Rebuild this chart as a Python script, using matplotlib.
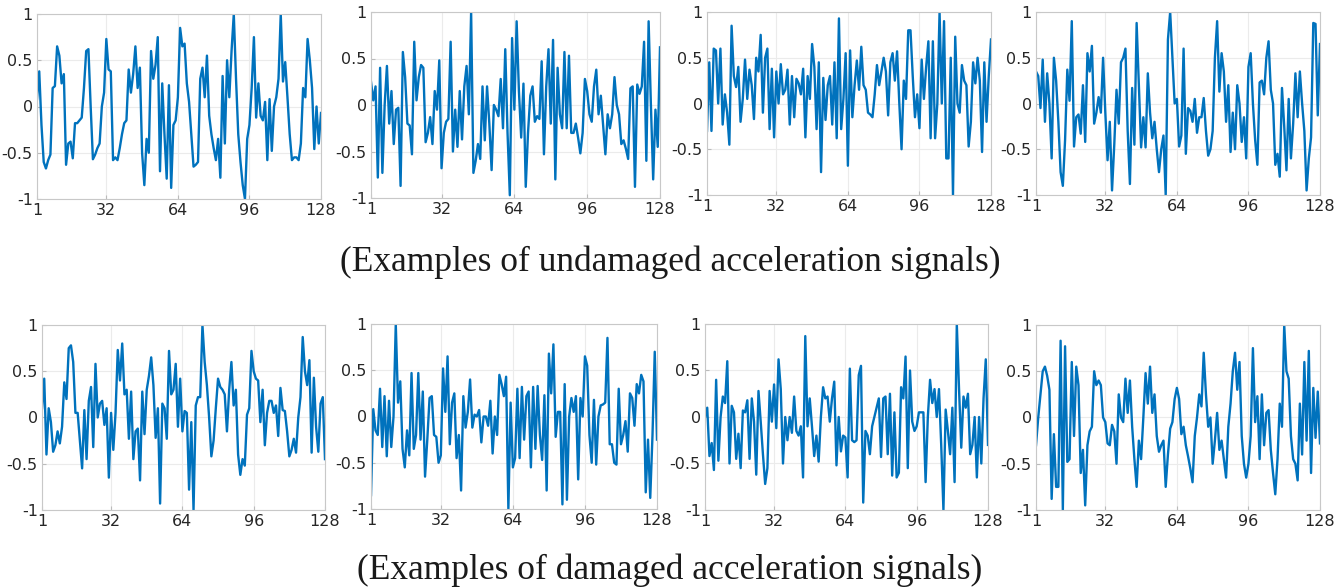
import matplotlib
matplotlib.use("Agg")
import matplotlib.pyplot as plt
import numpy as np

x_ticks = [1, 32, 64, 96, 128]
y_ticks = [-1, -0.5, 0, 0.5, 1]
y_tick_labels = ["-1", "-0.5", "0", "0.5", "1"]
caption_top = "(Examples of undamaged acceleration signals)"
caption_bottom = "(Examples of damaged acceleration signals)"

undamaged_1 = [0.08, 0.38, -0.2, -0.6, -0.67, -0.58, -0.52, 0.2, 0.22, 0.65, 0.55, 0.25, 0.35, -0.63, -0.4, -0.38,
               -0.56, -0.18, -0.18, -0.15, -0.12, 0.2, 0.6, 0.62, 0.0, -0.57, -0.52, -0.45, -0.4, 0.0, 0.15, 0.73,
               0.4, 0.38, -0.58, -0.55, -0.58, -0.45, -0.3, -0.18, -0.15, 0.4, 0.15, 0.35, 0.65, 0.2, 0.42, -0.5,
               -0.85, -0.35, -0.5, 0.6, 0.3, 0.45, 0.75, -0.7, 0.25, -0.3, -0.78, 0.23, -0.88, -0.2, -0.15, 0.1,
               0.85, 0.65, 0.68, 0.25, 0.05, -0.3, -0.65, -0.63, -0.6, 0.3, 0.42, 0.1, 0.55, -0.1, -0.3, -0.45,
               -0.58, -0.35, -0.77, 0.33, -0.4, 0.5, 0.1, 0.6, 1.0, 0.3, -0.3, -0.6, -0.85, -1.0, -0.35, -0.2,
               0.2, 0.75, -0.12, 0.25, -0.1, -0.15, 0.05, -0.58, 0.08, -0.48, 0.0, 0.1, 0.3, 1.0, 0.27, 0.48,
               0.1, -0.3, -0.58, -0.55, -0.55, -0.58, -0.4, 0.2, 0.1, 0.73, 0.5, 0.2, -0.46, 0.0, -0.4, -0.07]
undamaged_2 = [0.25, 0.05, 0.2, -0.78, 0.4, -0.73, 0.0, 0.42, -0.2, 0.15, -0.42, -0.05, -0.03, -0.87, 0.57, 0.3,
               -0.2, -0.22, -0.53, 0.68, 0.05, 0.3, 0.43, 0.4, -0.4, -0.3, -0.13, -0.42, 0.15, -0.05, 0.48, -0.68,
               -0.3, -0.18, -0.15, 0.68, -0.5, -0.05, -0.45, 0.15, -0.37, 0.2, 0.42, -0.1, 1.0, -0.73, -0.6, -0.42,
               -0.58, 0.2, -0.38, 0.2, -0.2, -0.7, 0.0, -0.05, -0.12, 0.28, -0.25, 0.6, -0.3, -0.97, 0.72, -0.05,
               0.9, 0.15, -0.35, 0.23, -0.88, -0.3, 0.1, 0.2, -0.18, -0.12, -0.15, 0.47, -0.53, 0.2, 0.6, -0.2,
               0.7, -0.8, 0.4, -0.1, -0.25, 0.57, -0.25, 0.53, -0.3, -0.3, -0.2, -0.35, -0.52, -0.3, 0.28, 0.15,
               -0.1, -0.18, 0.2, 0.38, -0.1, 0.1, -0.22, -0.53, -0.1, -0.25, -0.1, 0.3, 0.0, -0.1, -0.42, -0.38,
               -0.47, -0.58, 0.18, 0.2, -0.88, 0.22, 0.12, 0.2, 0.68, -0.6, 0.9, 0.0, -0.8, -0.05, -0.45, 0.62]
undamaged_3 = [-0.3, 0.45, -0.3, 0.6, 0.58, 0.0, 0.6, -0.23, 0.1, -0.1, -0.45, 0.85, 0.3, 0.18, 0.4, -0.2,
               0.05, 0.48, 0.05, 0.37, 0.2, -0.17, 0.5, 0.35, 0.75, -0.1, 0.5, 0.6, -0.28, 0.38, -0.37, 0.35,
               0.0, 0.43, 0.1, 0.15, 0.37, -0.23, 0.3, -0.15, 0.27, 0.22, 0.1, 0.38, -0.37, 0.3, 0.05, 0.65,
               0.4, -0.28, 0.45, -0.75, 0.28, -0.18, 0.2, 0.3, -0.23, 0.45, -0.38, 0.93, -0.28, 0.05, 0.55, -0.68,
               0.58, -0.15, 0.2, 0.47, 0.15, 0.62, 0.2, 0.15, -0.1, -0.12, -0.15, 0.1, 0.42, 0.2, 0.35, 0.5,
               0.35, -0.13, 0.45, 0.55, 0.25, 0.57, 0.0, -0.5, 0.25, 0.05, 0.8, 0.8, 0.3, -0.15, 0.1, -0.27,
               0.48, 0.05, 0.4, 0.68, -0.38, 0.68, -0.38, 0.0, 1.0, 0.0, 0.9, -0.6, -0.6, 0.5, -1.0, 0.73,
               0.0, -0.1, 0.42, 0.25, 0.2, -0.47, -0.2, 0.45, 0.22, 0.5, 0.25, -0.53, 0.45, -0.2, 0.3, 0.7]
undamaged_4 = [0.35, 0.3, -0.05, 0.48, -0.2, 0.33, 0.0, -0.6, 0.5, 0.25, -0.2, -0.75, -0.9, -0.4, 0.37, 0.03,
               0.9, -0.47, -0.15, -0.12, -0.33, 0.2, -0.42, 0.55, 0.35, 0.63, -0.22, -0.1, 0.07, -0.1, 0.5, -0.1,
               -0.62, -0.2, -0.95, -0.45, 0.15, -0.22, 0.45, 0.5, 0.6, -0.3, -0.88, 0.17, -0.45, 0.88, 0.2, -0.48,
               -0.15, -0.48, 0.33, -0.1, -0.38, -0.2, -0.5, -0.75, -0.5, -0.35, -1.0, 0.7, 1.0, 0.5, 0.0, 0.05,
               -0.47, -0.35, 0.6, -0.55, -0.05, -0.08, -0.2, 0.05, -0.32, -0.15, -0.15, 0.06, -0.3, -0.57, -0.5, -0.3,
               0.5, 0.9, 0.13, 0.55, 0.35, -0.2, 0.2, -0.53, -0.1, -0.5, 0.2, 0.0, -0.42, -0.15, -0.6, 0.4,
               0.55, 0.0, -0.4, -0.67, 0.23, 0.25, 0.1, 0.5, 0.68, 0.15, 0.0, -0.67, -0.55, -0.8, 0.17, -0.25,
               -0.73, 0.05, -0.6, -0.22, 0.33, -0.15, 0.35, 0.0, -0.3, -0.95, -0.6, -0.37, 0.88, 0.87, -0.13, 0.65]
damaged_1 = [0.1, 0.42, -0.4, 0.1, -0.05, -0.37, -0.3, -0.15, -0.28, -0.1, 0.38, 0.2, 0.75, 0.78, 0.6, 0.05,
             0.05, -0.25, -0.55, 0.08, -0.45, 0.18, 0.33, -0.32, 0.58, 0.0, 0.15, 0.18, -0.08, 0.1, -0.65, 0.05,
             -0.35, 0.05, 0.73, 0.4, 0.8, 0.25, 0.3, -0.23, 0.28, -0.45, -0.15, -0.12, -0.68, 0.28, -0.18, 0.3,
             0.45, 0.65, 0.35, -0.22, 0.1, -0.93, 0.15, 0.1, -0.23, 0.72, 0.25, 0.3, 0.58, -0.1, 0.42, -0.15,
             0.07, 0.05, -0.78, -0.05, -1.0, 0.13, 0.22, 0.22, 1.0, 0.6, 0.35, 0.0, -0.42, -0.25, 0.1, 0.42,
             0.33, 0.3, 0.25, -0.15, 0.3, 0.6, 0.13, 0.3, -0.4, -0.62, -0.45, -0.52, 0.03, 0.1, 0.72, 0.5,
             0.42, 0.4, -0.05, 0.3, -0.3, 0.05, 0.18, 0.18, 0.05, 0.13, -0.2, 0.32, 0.08, 0.07, -0.15, -0.42,
             -0.35, -0.23, -0.38, 0.0, 0.22, 0.87, 0.5, 0.35, 0.62, -0.38, 0.43, -0.1, -0.37, 0.15, 0.22, -0.45]
damaged_2 = [-0.85, 0.08, -0.15, -0.2, 0.3, -0.33, 0.22, -0.43, 0.17, -0.33, 0.0, 1.0, 0.15, 0.38, -0.35, -0.55,
             -0.15, -0.42, 0.47, -0.35, -0.2, 0.47, -0.25, 0.27, -0.65, -0.25, 0.2, 0.22, -0.2, -0.22, -0.5, -0.42,
             0.52, 0.05, 0.65, -0.3, 0.15, 0.25, -0.45, -0.2, -0.8, 0.22, -0.12, 0.05, 0.4, -0.12, 0.02, 0.0,
             0.07, -0.28, 0.0, 0.0, -0.1, 0.17, -0.4, 0.0, -0.2, 0.45, 0.35, 0.22, 0.43, -1.0, 0.15, -0.55,
             -0.45, 0.3, -0.45, 0.32, -0.25, 0.22, 0.27, -0.55, 0.32, -0.35, 0.33, -0.2, -0.47, 0.23, -0.8, 0.68,
             0.25, 0.78, -0.22, 0.05, 0.05, -0.95, 0.35, -0.9, 0.0, 0.2, 0.05, 0.22, -0.68, 0.2, 0.0, 0.65,
             0.55, -0.2, -0.5, 0.18, -0.52, 0.0, 0.12, 0.13, 0.15, 0.85, -0.3, -0.3, -0.5, -0.52, 0.3, -0.3,
             -0.2, -0.05, -0.38, 0.25, 0.2, -0.1, 0.35, 0.25, 0.45, 0.38, -0.82, -0.25, -0.88, -0.2, 0.7, -0.25]
damaged_3 = [0.0, 0.1, -0.42, -0.28, -0.57, 0.4, -0.47, 0.0, 0.22, 0.15, 0.6, -0.5, 0.12, 0.05, -0.45, -0.18,
             -0.55, 0.07, 0.05, 0.18, -0.45, 0.2, -0.05, -0.62, 0.28, -0.05, -0.4, -0.72, -0.55, 0.28, -0.05, 0.35,
             -0.12, 0.62, 0.3, -0.5, 0.0, -0.25, 0.0, -0.17, 0.22, -0.15, -0.2, -0.1, -0.65, 0.87, -0.1, 0.2,
             -0.1, -0.42, -0.2, -0.48, 0.0, 0.32, 0.2, 0.22, -0.05, 0.2, 0.38, -0.52, 0.0, -0.37, -0.2, -0.22,
             -0.65, 0.52, -0.25, -0.27, -0.25, 0.45, 0.55, -0.92, -0.15, -0.2, -0.4, -0.1, 0.0, 0.1, 0.2, -0.43,
             0.2, 0.22, -0.4, 0.25, -0.63, 0.05, -0.65, -0.6, 0.32, 0.2, 0.65, -0.55, 0.5, -0.05, -0.15, -0.1,
             0.05, 0.05, 0.05, -0.7, 0.0, 0.4, 0.15, 0.3, 0.0, 0.3, -0.3, -1.0, 0.08, -0.15, -0.4, 0.1,
             -0.7, 1.0, 0.3, -0.33, 0.22, 0.1, 0.25, -0.4, -0.3, 0.0, -0.65, 0.0, -0.5, 0.2, 0.62, -0.3]
damaged_4 = [-0.3, 0.0, 0.25, 0.5, 0.55, 0.45, 0.3, -0.88, -0.18, -0.75, -0.75, 0.83, -1.0, 0.77, -0.48, -0.45,
             0.6, -0.2, 0.55, 0.35, -0.6, -0.35, -0.95, -0.3, -0.15, -0.1, 0.5, 0.35, 0.4, 0.35, 0.0, -0.05,
             -0.28, -0.3, -0.08, -0.15, -0.5, 0.25, 0.0, -0.05, 0.42, 0.05, 0.4, -0.1, -0.45, -0.75, -0.25, -0.45,
             0.0, 0.48, 0.15, 0.55, 0.05, 0.25, -0.2, -0.37, -0.3, -0.25, -0.75, -0.4, -0.12, -0.05, 0.2, 0.32,
             0.2, -0.18, -0.1, -0.3, -0.42, -0.55, -0.7, -0.2, 0.0, 0.25, 0.12, 0.7, 0.25, -0.1, 0.0, -0.5,
             -0.25, 0.05, -0.35, -0.25, -0.45, -0.65, -0.1, 0.15, 0.5, 0.7, 0.3, 0.6, -0.2, -0.5, -0.65, -0.5,
             -0.2, 0.75, -0.05, 0.23, -0.45, 0.25, -0.3, 0.05, 0.08, -0.35, -0.6, -0.83, -0.45, 0.15, -0.1, 1.0,
             0.5, 0.42, -0.2, -0.45, -0.5, -0.68, 0.15, -0.4, 0.6, -0.25, 0.72, -0.6, 0.32, -0.22, 0.28, -0.28]

series = [undamaged_1, undamaged_2, undamaged_3, undamaged_4,
          damaged_1, damaged_2, damaged_3, damaged_4]

W, H = 1340, 588
fig = plt.figure(figsize=(W / 100, H / 100), dpi=100)

# pixel boxes (left, right, top, bottom)
boxes = [(37, 321, 14, 199), (371, 660, 12, 198), (707, 991, 12, 195), (1036, 1320, 12, 195),
         (42, 325, 325, 510), (371, 657, 324, 509), (705, 988, 324, 510), (1036, 1320, 325, 510)]

for vals, (l, r, t, b) in zip(series, boxes):
    ax = fig.add_axes([l / W, 1 - b / H, (r - l) / W, (b - t) / H])
    xs = np.arange(1, len(vals) + 1)
    ax.plot(xs, vals, color="#0072BD", lw=1.7)
    ax.set_xlim(1, 128)
    ax.set_ylim(-1, 1)
    ax.set_xticks(x_ticks)
    ax.set_yticks(y_ticks)
    ax.set_yticklabels(y_tick_labels)
    ax.grid(True, color="#ebebeb", lw=0.8)
    ax.set_axisbelow(True)
    for s in ax.spines.values():
        s.set_color("#c8c8c8")
        s.set_linewidth(0.8)
    ax.tick_params(direction="in", length=3, color="#bbbbbb", labelsize=11.5,
                   labelcolor="#262626", pad=3)
    for lab in ax.get_xticklabels() + ax.get_yticklabels():
        lab.set_family("DejaVu Sans")

fig.text(0.5, 1 - 262 / H, caption_top, ha="center", va="center",
         family="Liberation Serif", fontsize=25.5, color="#1a1a1a")
fig.text(0.5, 1 - 570 / H, caption_bottom, ha="center", va="center",
         family="Liberation Serif", fontsize=25.5, color="#1a1a1a")

fig.savefig("out.png", dpi=100, facecolor="white")
